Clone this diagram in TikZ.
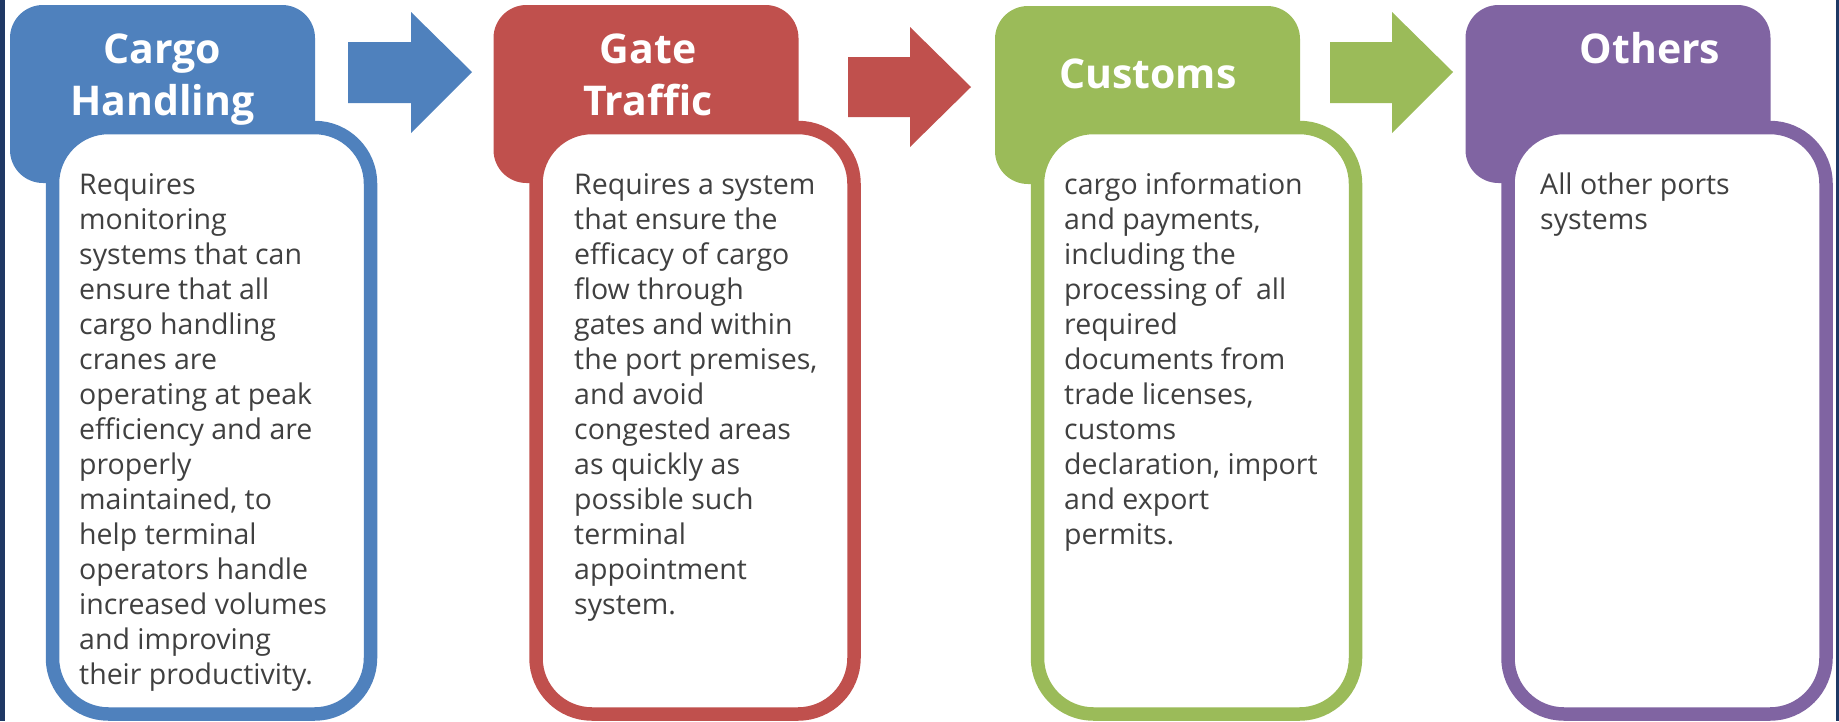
\documentclass[tikz,border=0pt]{standalone}
\usepackage{fontspec}
\setmainfont{Open Sans}
\definecolor{cblue}{HTML}{4F81BD}
\definecolor{cred}{HTML}{C0504D}
\definecolor{cgreen}{HTML}{9BBB59}
\definecolor{cpurple}{HTML}{8064A2}
\definecolor{cnavy}{HTML}{1F3864}
\definecolor{ctext}{HTML}{404040}
\begin{document}
\begin{tikzpicture}[x=1pt,y=-1pt,
  hdr/.style={rectangle, rounded corners=33pt, minimum width=305pt, minimum height=178pt, inner sep=0pt, draw=none},
  card/.style={rectangle, rounded corners=56pt, fill=white, line width=13.5pt, minimum width=318pt, minimum height=586.5pt, inner sep=0pt},
  htxt/.style={anchor=base, inner sep=0pt, text=white, font=\fontsize{41}{52}\selectfont\bfseries},
  btxt/.style={anchor=base west, inner sep=0pt, text=ctext, font=\fontsize{28.5}{35}\selectfont}
]
\useasboundingbox (0,0) rectangle (1839,721);
\fill[cnavy] (0,0) rectangle (5,721);
\fill[cnavy] (1836,0) rectangle (1839,721);

% headers
\node[hdr, fill=cblue]   (hA) at (162.5,94) {};
\node[hdr, fill=cred]    (hB) at (646,94) {};
\node[hdr, fill=cgreen]  (hC) at (1147.5,95) {};
\node[hdr, fill=cpurple] (hD) at (1618,94) {};

% cards
\node[card, draw=cblue]   (cA) at (211.5,420.75) {};
\node[card, draw=cred]    (cB) at (695,420.75) {};
\node[card, draw=cgreen]  (cC) at (1196.5,420.75) {};
\node[card, draw=cpurple] (cD) at (1667,420.75) {};

% arrows
\fill[cblue] (348,42) -- (411,42) -- (411,12) -- (472,72) -- (411,133) -- (411,103) -- (348,103) -- cycle;
\fill[cred] (848,57) -- (910,57) -- (910,27) -- (971,87) -- (910,147) -- (910,117) -- (848,117) -- cycle;
\fill[cgreen] (1330,42) -- (1392,42) -- (1392,12) -- (1453,72) -- (1392,133) -- (1392,103) -- (1330,103) -- cycle;

% header texts
\node[htxt] (tA) at (162.5,63) {\parbox[t]{300pt}{\centering Cargo\\Handling}};
\node[htxt] (tB) at (648,63) {\parbox[t]{300pt}{\centering Gate\\Traffic}};
\node[htxt] (tC) at (1148,88) {Customs};
\node[htxt] (tD) at (1650,63) {Others};

% body texts
\node[btxt] (bA) at (79,194) {\parbox[t]{300pt}{\raggedright
Requires\\
monitoring\\
systems that can\\
ensure that all\\
cargo handling\\
cranes are\\
operating at peak\\
efficiency and are\\
properly\\
maintained, to\\
help terminal\\
operators handle\\
increased volumes\\
and improving\\
their productivity.}};
\node[btxt] (bB) at (574,194) {\parbox[t]{300pt}{\raggedright
Requires a system\\
that ensure the\\
efficacy of cargo\\
flow through\\
gates and within\\
the port premises,\\
and avoid\\
congested areas\\
as quickly as\\
possible such\\
terminal\\
appointment\\
system.}};
\node[btxt] (bC) at (1064,194) {\parbox[t]{300pt}{\raggedright
cargo information\\
and payments,\\
including the\\
processing of~ all\\
required\\
documents from\\
trade licenses,\\
customs\\
declaration, import\\
and export\\
permits.}};
\node[btxt] (bD) at (1540,194) {\parbox[t]{300pt}{\raggedright
All other ports\\
systems}};
\end{tikzpicture}
\end{document}
